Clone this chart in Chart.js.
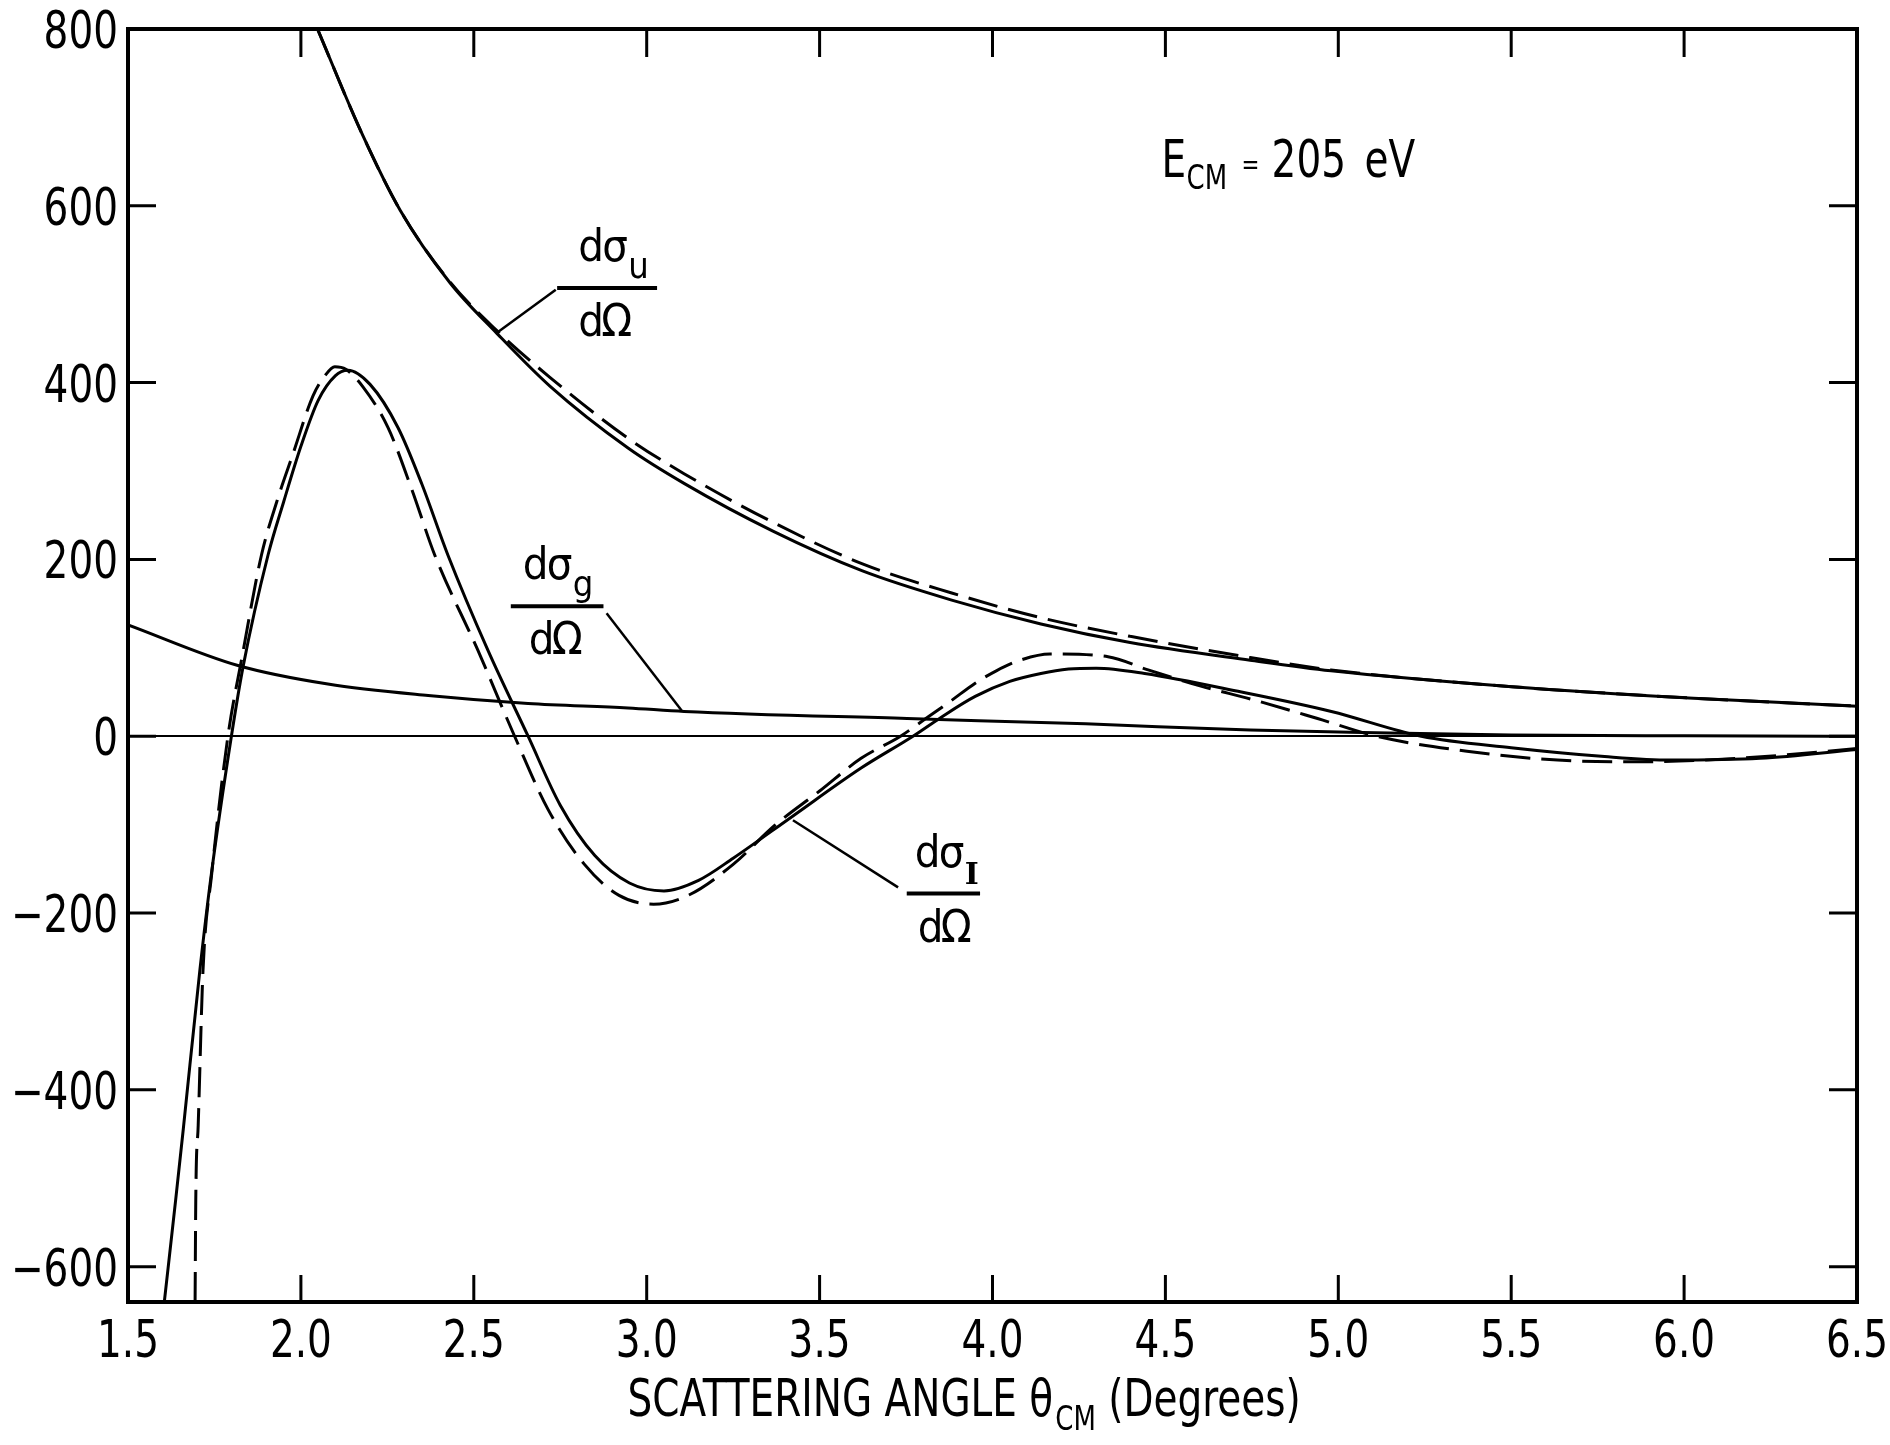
<!DOCTYPE html>
<html>
<head>
<meta charset="utf-8">
<script src="https://cdn.jsdelivr.net/npm/chart.js@4.4.0/dist/chart.umd.min.js"></script>
<style>
  html, body { margin: 0; padding: 0; background: #fff; }
  #wrap { width: 1890px; height: 1445px; }
</style>
</head>
<body>
<div id="wrap"><canvas id="chart" width="1890" height="1445"></canvas></div>
<script>
const FONT = '"DejaVu Sans Condensed", "Liberation Sans Narrow", "DejaVu Sans", sans-serif';
const SQUEEZE = 0.85; // the original lettering is narrower than any installed face

// axes
const xTicks = [1.5, 2.0, 2.5, 3.0, 3.5, 4.0, 4.5, 5.0, 5.5, 6.0, 6.5];
const yTicks = [-600, -400, -200, 0, 200, 400, 600, 800];

// dσu/dΩ
const uSolidX = [2.048, 2.175, 2.287, 2.431, 2.566, 2.720, 2.946, 3.108, 3.365, 3.624, 3.882, 4.140, 4.398, 4.745, 4.979, 5.502, 6.027, 6.500];
const uSolidY = [800, 683, 595, 513, 456, 396, 326, 286, 232, 187, 154, 127, 106, 86, 74, 56, 43, 34];
const uDashX = [2.048, 2.175, 2.287, 2.431, 2.566, 2.720, 2.946, 3.108, 3.365, 3.624, 3.882, 4.140, 4.398, 4.745, 4.979, 5.502, 6.027, 6.500];
const uDashY = [800, 683, 595, 514, 459, 406, 337, 297, 242, 195, 162, 134, 113, 89, 75, 56, 43, 34];

// dσg/dΩ
const gX = [1.5, 1.818, 2.078, 2.368, 2.657, 2.946, 3.108, 3.753, 4.269, 4.745, 5.11, 5.5, 6.0, 6.5];
const gY = [126, 80, 59, 46, 37, 32, 28, 20, 14, 7, 4, 1.5, 0.5, 0];

// dσI/dΩ
const iSolidX = [1.605, 1.638, 1.660, 1.708, 1.741, 1.799, 1.833, 1.905, 1.950, 2.000, 2.050, 2.100, 2.136, 2.200, 2.281, 2.350, 2.425, 2.541, 2.657, 2.750, 2.850, 2.950, 3.050, 3.150, 3.250, 3.420, 3.620, 3.770, 3.850, 3.950, 4.050, 4.140, 4.220, 4.300, 4.440, 4.720, 4.980, 5.240, 5.500, 5.770, 5.960, 6.220, 6.500];
const iSolidY = [-640, -524, -444, -264, -156, 0, 79, 205, 265, 328, 380, 408, 414, 398, 349, 285, 205, 97, 0, -78, -135, -166, -175, -163, -138, -91, -36, 0, 21, 45, 62, 71, 76, 77, 71, 50, 28, 0, -13, -23, -27, -25, -15];
const iDashX = [1.694, 1.696, 1.703, 1.717, 1.742, 1.789, 1.830, 1.886, 1.930, 1.976, 2.035, 2.070, 2.098, 2.130, 2.180, 2.252, 2.320, 2.387, 2.512, 2.618, 2.715, 2.820, 2.920, 3.020, 3.120, 3.250, 3.370, 3.500, 3.620, 3.734, 3.800, 3.880, 3.950, 4.011, 4.080, 4.166, 4.334, 4.450, 4.600, 4.756, 4.940, 5.110, 5.372, 5.634, 5.870, 6.158, 6.500];
const iDashY = [-640, -524, -440, -264, -156, 0, 90, 205, 265, 318, 385, 408, 418, 415, 395, 349, 280, 205, 97, 0, -83, -145, -180, -190, -180, -145, -101, -62, -25, 0, 18, 40, 60, 74, 86, 93, 90, 75, 57, 41, 20, 0, -17, -27, -29, -25, -14];

const pts = (xs, ys) => xs.map((v, i) => ({ x: v, y: ys[i] }));

function curve(xs, ys, dashed) {
  return {
    data: pts(xs, ys),
    showLine: true,
    borderColor: "#000",
    borderWidth: 3,
    borderDash: dashed ? [30, 11] : [],
    pointRadius: 0,
    cubicInterpolationMode: "monotone",
    fill: false
  };
}

// fraction labels: bar in data coords, leader line from curve to bar
const fracs = [
  { sub: "u", x0: 2.741, x1: 3.030, y: 507, dx: 21, ddx: 21, from: [2.566, 456], to: [2.737, 505] },
  { sub: "g", x0: 2.607, x1: 2.875, y: 147, dx: 12, ddx: 18, from: [3.101, 29], to: [2.884, 139] },
  { sub: "I", x0: 3.752, x1: 3.964, y: -178, dx: 8, ddx: 11, from: [3.423, -95], to: [3.727, -171] }
];

function squeezed(ctx, text, px, py) {
  ctx.save();
  ctx.translate(px, py);
  ctx.scale(SQUEEZE, 1);
  ctx.fillText(text, 0, 0);
  ctx.restore();
  return ctx.measureText(text).width * SQUEEZE;
}

function drawFrac(ctx, x, y, f) {
  const l = x.getPixelForValue(f.x0), r = x.getPixelForValue(f.x1), b = y.getPixelForValue(f.y);
  ctx.lineWidth = 4;
  ctx.beginPath(); ctx.moveTo(l, b); ctx.lineTo(r, b); ctx.stroke();
  ctx.lineWidth = 2.5;
  ctx.beginPath();
  ctx.moveTo(x.getPixelForValue(f.from[0]), y.getPixelForValue(f.from[1]));
  ctx.lineTo(x.getPixelForValue(f.to[0]), y.getPixelForValue(f.to[1]));
  ctx.stroke();
  ctx.textBaseline = "alphabetic";
  ctx.textAlign = "left";
  ctx.font = "45px " + FONT;
  ctx.fillText("d", l + f.dx, b - 27);
  ctx.fillText("σ", l + f.dx + 24, b - 27);
  ctx.fillText("d", l + f.ddx, b + 48);
  ctx.fillText("Ω", l + f.ddx + 23, b + 48);
  ctx.font = (f.sub === "I" ? "bold 30px " : "36px ") + (f.sub === "I" ? '"DejaVu Serif", serif' : FONT);
  ctx.fillText(f.sub, l + f.dx + 50, b - 10);
}

const annot = {
  id: "annot",
  afterDraw(chart) {
    const { ctx, chartArea: a, scales: { x, y } } = chart;
    ctx.save();
    ctx.strokeStyle = "#000";
    ctx.fillStyle = "#000";
    ctx.lineWidth = 4;
    ctx.strokeRect(a.left, a.top, a.right - a.left, a.bottom - a.top);

    // inward ticks on all four sides
    ctx.lineWidth = 3;
    ctx.beginPath();
    x.ticks.forEach(t => {
      const px = x.getPixelForValue(t.value);
      ctx.moveTo(px, a.bottom); ctx.lineTo(px, a.bottom - 27);
      ctx.moveTo(px, a.top); ctx.lineTo(px, a.top + 28);
    });
    y.ticks.forEach(t => {
      const py = y.getPixelForValue(t.value);
      ctx.moveTo(a.left, py); ctx.lineTo(a.left + 28, py);
      ctx.moveTo(a.right, py); ctx.lineTo(a.right - 28, py);
    });
    ctx.stroke();

    // tick labels, narrowed like the original lettering
    ctx.font = "51px " + FONT;
    ctx.textBaseline = "alphabetic";
    ctx.textAlign = "center";
    x.ticks.forEach(t => squeezed(ctx, t.value.toFixed(1), x.getPixelForValue(t.value), a.bottom + 55));
    ctx.textAlign = "right";
    y.ticks.forEach(t => {
      const s = t.value < 0 ? "\u2212" + Math.abs(t.value) : String(t.value);
      squeezed(ctx, s, a.left - 10, y.getPixelForValue(t.value) + 19);
    });
    ctx.textAlign = "left";

    fracs.forEach(f => drawFrac(ctx, x, y, f));

    // E_CM = 205 eV
    const ex = x.getPixelForValue(4.489), ey = y.getPixelForValue(633);
    ctx.font = "51px " + FONT;
    squeezed(ctx, "E", ex, ey);
    ctx.font = "34px " + FONT;
    squeezed(ctx, "CM", ex + 25, ey + 12);
    ctx.font = "28px " + FONT;
    squeezed(ctx, "=", ex + 80, ey - 3);
    ctx.font = "51px " + FONT;
    squeezed(ctx, "205", ex + 110, ey);
    squeezed(ctx, "eV", ex + 203, ey);

    // x axis title with subscript
    const t1 = "SCATTERING ANGLE θ", t2 = "CM", t3 = " (Degrees)";
    ctx.font = "51px " + FONT;
    const w1 = ctx.measureText(t1).width * SQUEEZE, w3 = ctx.measureText(t3).width * SQUEEZE;
    ctx.font = "34px " + FONT;
    const w2 = ctx.measureText(t2).width * SQUEEZE;
    const tx = x.getPixelForValue(3.915) - (w1 + w2 + w3) / 2;
    const ty = a.bottom + 114;
    ctx.font = "51px " + FONT;
    squeezed(ctx, t1, tx, ty);
    ctx.font = "34px " + FONT;
    squeezed(ctx, t2, tx + w1 + 2, ty + 14);
    ctx.font = "51px " + FONT;
    squeezed(ctx, t3, tx + w1 + w2 + 2, ty);
    ctx.restore();
  }
};

new Chart(document.getElementById("chart").getContext("2d"), {
  type: "scatter",
  data: {
    datasets: [
      curve(uSolidX, uSolidY, false),
      curve(uDashX, uDashY, true),
      curve(gX, gY, false),
      curve(iSolidX, iSolidY, false),
      curve(iDashX, iDashY, true)
    ]
  },
  options: {
    responsive: false,
    animation: false,
    layout: { padding: { top: 29, right: 33, left: 0, bottom: 0 } },
    plugins: { legend: { display: false }, tooltip: { enabled: false } },
    scales: {
      x: {
        type: "linear",
        min: 1.5,
        max: 6.5,
        afterBuildTicks: s => { s.ticks = xTicks.map(v => ({ value: v })); },
        afterFit: s => { s.height = 143; },
        border: { display: false },
        grid: { display: false, drawTicks: false },
        ticks: { display: false }
      },
      y: {
        type: "linear",
        min: -640,
        max: 800,
        afterBuildTicks: s => { s.ticks = yTicks.map(v => ({ value: v })); },
        afterFit: s => { s.width = 128; },
        border: { display: false },
        grid: {
          drawTicks: false,
          color: c => (c.tick && c.tick.value === 0 ? "#000" : "rgba(0,0,0,0)"),
          lineWidth: 2
        },
        ticks: { display: false }
      }
    }
  },
  plugins: [annot]
});
</script>
</body>
</html>
